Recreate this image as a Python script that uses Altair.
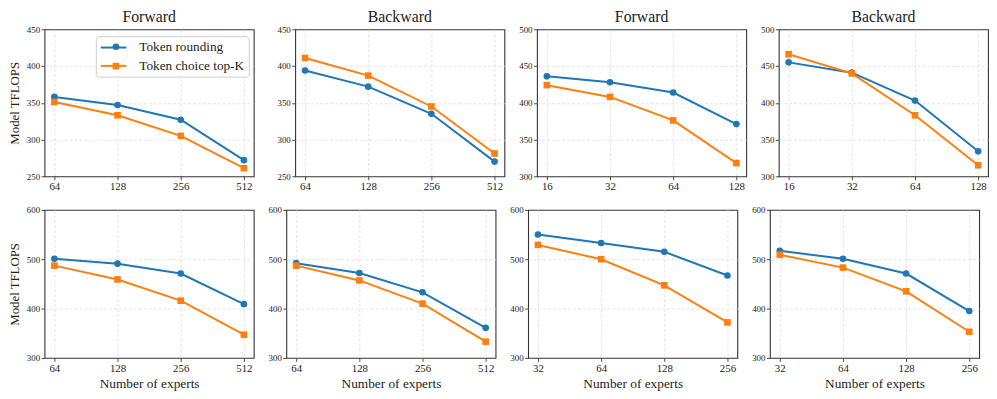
import altair as alt
import pandas as pd

SERIES = ["Token rounding", "Token choice top-K"]
COLORS = ["#1f77b4", "#ff7f0e"]

# x tick categories
x_a = ["64", "128", "256", "512"]
x_b = ["16", "32", "64", "128"]
x_c = ["32", "64", "128", "256"]

# top row
p1_blue = [358, 347, 327, 272]
p1_orange = [351, 333, 305, 261]
p2_blue = [394, 372, 335, 270]
p2_orange = [411, 387, 345, 281]
p3_blue = [436, 428, 414, 371]
p3_orange = [424, 408, 376, 318]
p4_blue = [455, 441, 403, 334]
p4_orange = [466, 440, 383, 315]

# bottom row
p5_blue = [501, 491, 471, 409]
p5_orange = [487, 459, 416, 347]
p6_blue = [492, 472, 433, 361]
p6_orange = [487, 457, 410, 333]
p7_blue = [550, 533, 515, 467]
p7_orange = [529, 500, 447, 372]
p8_blue = [517, 501, 471, 395]
p8_orange = [509, 483, 435, 353]

FONT = "Liberation Serif"
W = 212
LINE_SERIES = [s + " " for s in SERIES]


def panel(xvals, blue, orange, ydom, yticks, h, title=None, ytitle=None, xtitle=None, legend=False):
    df = pd.DataFrame({
        "experts": xvals * 2,
        "series": [SERIES[0]] * len(blue) + [SERIES[1]] * len(orange),
        "tflops": blue + orange,
    })
    x = alt.X("experts:O", sort=xvals,
              scale=alt.Scale(type="point", padding=0.156),
              axis=alt.Axis(labelAngle=0, grid=True, title=xtitle if xtitle else None,
                            labelFontSize=11, titleFontSize=13.5, titleFontWeight="normal",
                            labelPadding=1, titlePadding=3, minExtent=16, maxExtent=16))
    edge_test = f"datum.value <= {ydom[0]} || datum.value >= {ydom[1]}"
    y = alt.Y("tflops:Q",
              scale=alt.Scale(domain=ydom, nice=False, zero=False),
              axis=alt.Axis(values=yticks, grid=True, title=ytitle if ytitle else None,
                            gridColor={"condition": {"test": edge_test, "value": "transparent"},
                                       "value": "#dddddd"},
                            labelFontSize=9, titleFontSize=13, titleFontWeight="normal",
                            labelPadding=1.5, titlePadding=4, minExtent=19, maxExtent=19))
    if legend:
        leg_line = alt.Legend(title=None, orient="none", legendX=52, legendY=7,
                              symbolType="M-1,0H3", symbolSize=169, symbolStrokeWidth=2,
                              labelOffset=25, labelFontSize=13.4, labelFont=FONT,
                              labelColor="#222222", rowPadding=4.6, padding=4,
                              strokeColor="#cccccc", fillColor="white", cornerRadius=3,
                              zindex=1)
        leg_pt = alt.Legend(title=None, orient="none", legendX=52, legendY=7,
                            symbolSize=45, symbolOffset=9.65, symbolOpacity=1,
                            labelOffset=31.3, labelFontSize=13.4, labelFont=FONT,
                            labelOpacity=0, rowPadding=4.6, padding=4, zindex=2)
    else:
        leg_line = None
        leg_pt = None
    lines = alt.Chart(df).transform_calculate(
        series_line="datum.series + ' '"
    ).mark_line(strokeWidth=2).encode(
        x=x, y=y,
        stroke=alt.Stroke("series_line:N", scale=alt.Scale(domain=LINE_SERIES, range=COLORS),
                          legend=leg_line),
    )
    pts = alt.Chart(df).mark_point(filled=True, size=45, opacity=1).encode(
        x=x, y=y,
        color=alt.Color("series:N", scale=alt.Scale(domain=SERIES, range=COLORS), legend=leg_pt),
        shape=alt.Shape("series:N", scale=alt.Scale(domain=SERIES, range=["circle", "square"]),
                        legend=leg_pt),
    )
    props = dict(width=W, height=h)
    if title:
        props["title"] = alt.TitleParams(title, fontSize=16, fontWeight="normal", font=FONT, offset=0)
    return alt.layer(lines, pts).properties(**props)


t250 = [250, 300, 350, 400, 450]
t300 = [300, 350, 400, 450, 500]
tb = [300, 400, 500, 600]

top = alt.hconcat(
    panel(x_a, p1_blue, p1_orange, [250, 450], t250, 149, title="Forward", ytitle="Model TFLOPS", legend=True),
    panel(x_a, p2_blue, p2_orange, [250, 450], t250, 149, title="Backward"),
    panel(x_b, p3_blue, p3_orange, [300, 500], t300, 149, title="Forward"),
    panel(x_b, p4_blue, p4_orange, [300, 500], t300, 149, title="Backward"),
    spacing=12,
).resolve_legend(color="independent", shape="independent", stroke="independent")

bottom = alt.hconcat(
    panel(x_a, p5_blue, p5_orange, [300, 600], tb, 150, ytitle="Model TFLOPS", xtitle="Number of experts"),
    panel(x_a, p6_blue, p6_orange, [300, 600], tb, 150, xtitle="Number of experts"),
    panel(x_c, p7_blue, p7_orange, [300, 600], tb, 150, xtitle="Number of experts"),
    panel(x_c, p8_blue, p8_orange, [300, 600], tb, 150, xtitle="Number of experts"),
    spacing=12,
)

chart = alt.vconcat(top, bottom, spacing=12).resolve_legend(
    color="independent", shape="independent", stroke="independent"
).properties(padding={"top": -2, "left": 0, "right": 0, "bottom": 0}).configure(
    font=FONT, background="white"
).configure_view(
    stroke="#333333", strokeWidth=1.1
).configure_axis(
    domain=False, tickColor="#333333", tickSize=3.5, tickWidth=0.9,
    labelColor="#222222", titleColor="#222222", labelFont=FONT, titleFont=FONT,
    gridDash=[3, 2], gridWidth=0.8,
).configure_title(color="#222222")

chart.save("out.html", embed_options={"renderer": "svg", "actions": False})
